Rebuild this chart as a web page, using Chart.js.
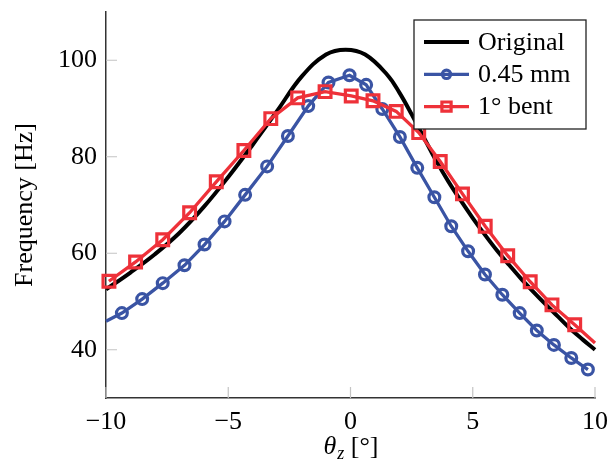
<!DOCTYPE html>
<html lang="en">
<head>
<meta charset="UTF-8">
<title>Frequency vs theta_z</title>
<style>
  body { margin: 0; background: #fff; }
</style>
</head>
<body>
<canvas id="myChart" width="610" height="470"></canvas>

<script src="https://cdn.jsdelivr.net/npm/chart.js"></script>
<script>
// Original (smooth curve, no markers)
const origX = [-10, -9, -8, -7, -6, -5, -4, -3, -2, -1, -0.2, 0.6, 1.5, 2, 2.5, 3, 3.5, 4, 4.5, 5, 5.5, 6, 6.5, 7, 7.5, 8, 8.5, 9, 9.5, 10];
const origY = [52.5, 56.0, 59.8, 64.2, 69.6, 75.8, 82.5, 89.5, 96.6, 101.2, 102.2, 101.2, 97.0, 93.3, 88.8, 84.0, 79.2, 74.9, 71.0, 67.3, 63.8, 60.5, 57.5, 54.6, 51.9, 49.3, 46.8, 44.3, 42.1, 40.0];

// 0.45 mm
const mmX = [-10, -9.35, -8.52, -7.68, -6.79, -5.97, -5.15, -4.31, -3.41, -2.56, -1.73, -0.9, -0.04, 0.64, 1.3, 2.02, 2.73, 3.43, 4.12, 4.81, 5.5, 6.21, 6.92, 7.62, 8.32, 9.03, 9.71];
const mmY = [45.9, 47.6, 50.5, 53.8, 57.5, 61.8, 66.6, 72.1, 78.0, 84.3, 90.5, 95.4, 96.9, 94.9, 89.9, 84.1, 77.7, 71.6, 65.6, 60.4, 55.6, 51.4, 47.6, 44.0, 41.0, 38.3, 35.9];

// 1° bent
const bentX = [-9.88, -8.79, -7.68, -6.58, -5.49, -4.36, -3.26, -2.16, -1.04, 0.03, 0.92, 1.87, 2.79, 3.67, 4.58, 5.51, 6.43, 7.35, 8.24, 9.17, 10];
const bentY = [54.2, 58.2, 62.8, 68.4, 74.8, 81.3, 87.9, 92.2, 93.5, 92.6, 91.6, 89.4, 85.0, 79.0, 72.3, 65.6, 59.5, 54.1, 49.3, 45.2, 41.4];

const xTicks = [-10, -5, 0, 5, 10];
const yTicks = [40, 60, 80, 100];
const names = ['Original', '0.45 mm', '1° bent'];

const black = '#000000';
const blue = '#3a54a4';
const red = '#ee3139';
const fontSize = 26;

function toPoints(xs, ys) {
    return xs.map((x, i) => ({ x: x, y: ys[i] }));
}

// hide markers on the curve end points at the plot edges
function markerSize(r) {
    return c => (c.raw && Math.abs(c.raw.x) === 10) ? 0 : r;
}

// tick marks drawn on the inside of the axes
const innerTicks = {
    id: 'innerTicks',
    beforeDatasetsDraw(chart) {
        const ctx = chart.ctx;
        const xs = chart.scales.x, ys = chart.scales.y;
        const a = chart.chartArea;
        ctx.save();
        ctx.strokeStyle = '#c4c4c4';
        ctx.lineWidth = 1.2;
        ctx.beginPath();
        xTicks.forEach(v => {
            const px = xs.getPixelForValue(v);
            ctx.moveTo(px, a.bottom);
            ctx.lineTo(px, a.bottom - 11);
        });
        yTicks.forEach(v => {
            const py = ys.getPixelForValue(v);
            ctx.moveTo(a.left, py);
            ctx.lineTo(a.left + 11, py);
        });
        ctx.stroke();
        ctx.restore();
    }
};

function drawMarker(ctx, style, x, y, r, color, lw) {
    ctx.save();
    ctx.strokeStyle = color;
    ctx.lineWidth = lw;
    ctx.beginPath();
    if (style === 'circle') {
        ctx.arc(x, y, r, 0, Math.PI * 2);
    } else if (style === 'rect') {
        const s = r * Math.SQRT1_2;
        ctx.rect(x - s, y - s, 2 * s, 2 * s);
    }
    ctx.stroke();
    ctx.restore();
}

// boxed legend in the upper right and x axis title with subscript
const extras = {
    id: 'extras',
    afterDraw(chart) {
        const ctx = chart.ctx;
        const a = chart.chartArea;

        // legend
        const bw = 172, bh = 109;
        const bx = a.right - 9 - bw, by = a.top + 8;
        ctx.save();
        ctx.fillStyle = '#fff';
        ctx.fillRect(bx, by, bw, bh);
        ctx.strokeStyle = '#222';
        ctx.lineWidth = 1.3;
        ctx.strokeRect(bx, by, bw, bh);
        ctx.font = fontSize + "px 'Liberation Serif', serif";
        ctx.textBaseline = 'middle';
        ctx.fillStyle = '#000';
        chart.data.datasets.forEach((ds, i) => {
            const cy = by + 22 + i * 32.3;
            const x0 = bx + 10, x1 = bx + 55;
            ctx.strokeStyle = ds.borderColor;
            ctx.lineWidth = ds.borderWidth;
            ctx.beginPath();
            ctx.moveTo(x0, cy);
            ctx.lineTo(x1, cy);
            ctx.stroke();
            if (ds.legendMarker) {
                drawMarker(ctx, ds.pointStyle, (x0 + x1) / 2, cy, ds.legendMarker, ds.borderColor, ds.pointBorderWidth);
            }
            ctx.fillText(ds.label, bx + 64, cy + 1);
        });
        ctx.restore();

        // x axis title: theta_z [°]
        ctx.save();
        ctx.fillStyle = '#000';
        ctx.textBaseline = 'alphabetic';
        const big = "italic " + fontSize + "px 'Liberation Serif', serif";
        const sub = "italic 18px 'Liberation Serif', serif";
        const reg = fontSize + "px 'Liberation Serif', serif";
        ctx.font = big; const w1 = ctx.measureText('θ').width;
        ctx.font = sub; const w2 = ctx.measureText('z').width;
        ctx.font = reg; const w3 = ctx.measureText(' [°]').width;
        let tx = (a.left + a.right) / 2 - (w1 + w2 + w3) / 2;
        const ty = a.bottom + 56;
        ctx.font = big; ctx.fillText('θ', tx, ty); tx += w1 + 1;
        ctx.font = sub; ctx.fillText('z', tx, ty + 5); tx += w2;
        ctx.font = reg; ctx.fillText(' [°]', tx, ty);
        ctx.restore();
    }
};

Chart.defaults.font.family = "'Liberation Serif', serif";
Chart.defaults.font.size = fontSize;
Chart.defaults.color = '#000';

const ctx = document.getElementById('myChart');

new Chart(ctx, {
    type: 'scatter',
    data: {
        datasets: [{
            label: names[0],
            data: toPoints(origX, origY),
            showLine: true,
            borderColor: black,
            borderWidth: 4,
            pointRadius: 0,
            tension: 0.4,
            order: 3,
            clip: false
        }, {
            label: names[1],
            data: toPoints(mmX, mmY),
            showLine: true,
            borderColor: blue,
            borderWidth: 3.3,
            pointStyle: 'circle',
            pointRadius: markerSize(5.4),
            pointBorderWidth: 3.2,
            pointBorderColor: blue,
            pointBackgroundColor: 'rgba(0,0,0,0)',
            legendMarker: 4.2,
            order: 2,
            clip: false
        }, {
            label: names[2],
            data: toPoints(bentX, bentY),
            showLine: true,
            borderColor: red,
            borderWidth: 3.3,
            pointStyle: 'rect',
            pointRadius: markerSize(8.3),
            pointBorderWidth: 3.2,
            pointBorderColor: red,
            pointBackgroundColor: 'rgba(0,0,0,0)',
            legendMarker: 6.5,
            order: 1,
            clip: false
        }]
    },
    options: {
        responsive: false,
        animation: false,
        layout: { padding: { top: 12, right: 15, left: 0, bottom: 0 } },
        plugins: {
            legend: { display: false },
            tooltip: { enabled: false }
        },
        scales: {
            x: {
                type: 'linear',
                position: 'bottom',
                min: -10,
                max: 10,
                grid: { display: false, drawTicks: false },
                border: { display: true, color: '#333', width: 1.5 },
                ticks: {
                    padding: 9,
                    callback: v => v < 0 ? '\u2212' + Math.abs(v) : String(v)
                },
                afterBuildTicks: s => { s.ticks = xTicks.map(v => ({ value: v })); },
                afterFit: s => { s.height = 72; s.paddingLeft = 0; s.paddingRight = 0; }
            },
            y: {
                min: 30,
                max: 110,
                grid: { display: false, drawTicks: false },
                border: { display: true, color: '#333', width: 1.5 },
                ticks: { padding: 9 },
                title: {
                    display: true,
                    text: 'Frequency [Hz]',
                    padding: { top: 10, bottom: 0 }
                },
                afterBuildTicks: s => { s.ticks = yTicks.map(v => ({ value: v })); },
                afterFit: s => { s.width = 106; s.paddingTop = 0; s.paddingBottom = 0; }
            }
        }
    },
    plugins: [innerTicks, extras]
});
</script>
</body>
</html>
